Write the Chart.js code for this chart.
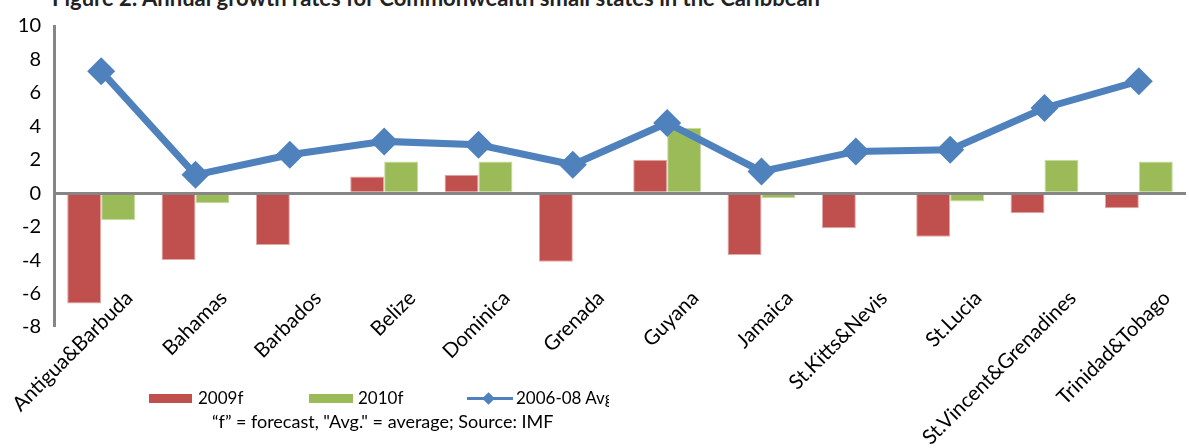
<!DOCTYPE html>
<html>
<head>
<meta charset="utf-8">
<script src="https://cdn.jsdelivr.net/npm/chart.js@4"></script>
<style>
  html, body { margin: 0; padding: 0; background: #fff; overflow: hidden; }
  #wrap { position: relative; width: 1200px; height: 448px; font-family: Lato, sans-serif; }
  #chartBox { position: absolute; left: 0; top: 0; width: 1200px; height: 448px; }
  .title { position: absolute; left: 52px; top: -15px; font: bold 22px/26px Lato, sans-serif; color: #222; white-space: nowrap; }
  .legend { position: absolute; left: 0; top: 388px; width: 609px; height: 20px; overflow: hidden; font-size: 17px; color: #000; }
  .legend .box { position: absolute; top: 6px; height: 9px; }
  .legend .txt { position: absolute; top: 0; line-height: 20px; white-space: nowrap; }
  .legend .ln { position: absolute; top: 9px; height: 3px; }
  .legend .dia { position: absolute; width: 9px; height: 9px; transform: rotate(45deg); }
  .source { position: absolute; left: 212px; top: 410px; font-size: 18px; color: #000; white-space: nowrap; }
</style>
</head>
<body>
<div id="wrap">
  <div class="title">Figure 2: Annual growth rates for Commonwealth small states in the Caribbean</div>
  <div id="chartBox"><canvas id="myChart"></canvas></div>
  <div class="legend" id="legend"></div>
  <div class="source">“f” = forecast, "Avg." = average; Source: IMF</div>
</div>
<script>
// данные
const countries = ['Antigua&Barbuda', 'Bahamas', 'Barbados', 'Belize', 'Dominica', 'Grenada',
  'Guyana', 'Jamaica', 'St.Kitts&Nevis', 'St.Lucia', 'St.Vincent&Grenadines', 'Trinidad&Tobago'];
const growth2009 = [-6.6, -4.0, -3.1, 1.0, 1.1, -4.1, 2.0, -3.7, -2.1, -2.6, -1.2, -0.9];
const growth2010 = [-1.6, -0.6, null, 1.9, 1.9, null, 3.9, -0.3, null, -0.5, 2.0, 1.9];
const avg0608 = [7.3, 1.1, 2.3, 3.1, 2.9, 1.7, 4.2, 1.3, 2.5, 2.6, 5.1, 6.7];
const yTicks = [-8, -6, -4, -2, 0, 2, 4, 6, 8, 10];

const RED = '#c0504d', GREEN = '#9bbb59', BLUE = '#4f81bd', AXIS = '#868686';

Chart.defaults.font.family = 'Lato, sans-serif';
Chart.defaults.color = '#000';

const ctx = document.getElementById('myChart').getContext('2d');
const chart = new Chart(ctx, {
  data: {
    labels: countries,
    datasets: [
      {
        type: 'line', label: '2006-08 Avg', data: avg0608, order: 0,
        borderColor: BLUE, backgroundColor: BLUE, borderWidth: 7,
        pointStyle: 'rectRot', pointRadius: 14, pointBorderWidth: 0,
        pointBackgroundColor: BLUE, tension: 0,
      },
      {
        type: 'bar', label: '2009f', data: growth2009, order: 1,
        backgroundColor: RED, borderColor: '#e3a8a6', borderWidth: 1,
        categoryPercentage: 0.72, barPercentage: 1,
      },
      {
        type: 'bar', label: '2010f', data: growth2010, order: 1,
        backgroundColor: GREEN, borderColor: '#c5dba0', borderWidth: 1,
        categoryPercentage: 0.72, barPercentage: 1,
      },
    ],
  },
  options: {
    responsive: true,
    maintainAspectRatio: false,
    animation: false,
    layout: { padding: { left: 0, right: 1, top: 26, bottom: 121 } },
    plugins: { legend: { display: false }, tooltip: { enabled: false } },
    scales: {
      x: {
        // подписи стран заходят внутрь области графика, как в оригинале
        position: { y: -8 },
        grid: { display: false, drawTicks: false },
        border: { display: false },
        ticks: {
          autoSkip: false, minRotation: 45, maxRotation: 45,
          padding: -41, labelOffset: 28,
          font: { size: 20.5 }, color: '#000',
        },
      },
      y: {
        min: -8, max: 10,
        afterBuildTicks: (scale) => { scale.ticks = yTicks.map(v => ({ value: v })); },
        grid: {
          drawTicks: false,
          color: (c) => (c.tick && c.tick.value === 0 ? AXIS : 'rgba(0,0,0,0)'),
          lineWidth: (c) => (c.tick && c.tick.value === 0 ? 3 : 0),
        },
        border: { display: true, color: AXIS, width: 3 },
        ticks: { padding: 13, font: { size: 20 }, color: '#000' },
        afterFit: (scale) => { scale.width = 54; },
      },
    },
  },
});

// легенда
const legend = document.getElementById('legend');
legend.innerHTML =
  `<div class="box" style="left:149px;width:43px;background:${RED}"></div>` +
  `<div class="txt" style="left:198px">2009f</div>` +
  `<div class="box" style="left:309px;width:44px;background:${GREEN}"></div>` +
  `<div class="txt" style="left:358px">2010f</div>` +
  `<div class="ln" style="left:467px;width:46px;background:${BLUE}"></div>` +
  `<div class="dia" style="left:484px;top:6px;background:${BLUE}"></div>` +
  `<div class="txt" style="left:516px">2006-08 Avg</div>`;
</script>
</body>
</html>
